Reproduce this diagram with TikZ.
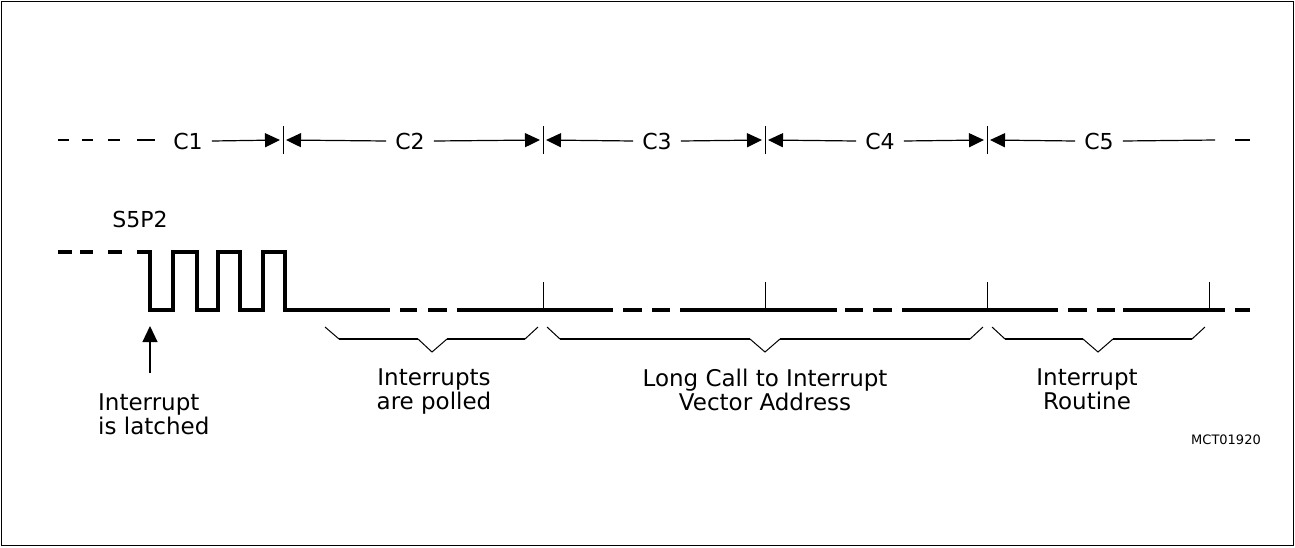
\documentclass[tikz,border=0pt]{standalone}
\usepackage{fontspec}
\setmainfont{DejaVu Sans}
\usetikzlibrary{arrows.meta}
\begin{document}
\begin{tikzpicture}[x=1pt,y=-1pt,
  wave/.style={line width=3.6pt},
  dim/.style={line width=1.2pt},
  tip/.style={-{Triangle[length=15pt,width=14pt]}},
  tick/.style={line width=1pt},
  brh/.style={line width=2.6pt},
  brd/.style={line width=1pt},
  lab/.style={font=\fontsize{22}{24}\selectfont, inner sep=0pt},
  txt/.style={font=\fontsize{23}{24}\selectfont, inner sep=0pt},
  cyc/.style={font=\fontsize{22}{24}\selectfont, inner xsep=9pt, inner ysep=0pt},
]
\useasboundingbox (0,0) rectangle (1295,547);
\draw[line width=1.5pt] (1.5,1.5) rectangle (1293.5,545.5);

% ---- cycle labels and ticks (top row)
\node[cyc] (C1) at (188,141) {C1};
\node[cyc] (C2) at (410,141) {C2};
\node[cyc] (C3) at (657,141) {C3};
\node[cyc] (C4) at (880,141) {C4};
\node[cyc] (C5) at (1099,141) {C5};
\coordinate (t1) at (283,140);
\coordinate (t2) at (543,140);
\coordinate (t3) at (765,140);
\coordinate (t4) at (987,140);
\foreach \t in {t1,t2,t3,t4} \draw[tick] ([yshift=-14pt]\t) -- ([yshift=14pt]\t);

\foreach \a/\b in {58/69,82/93,108/120,137/155} \draw[dim] (\a,140) -- (\b,140);
\draw[dim,tip] (C1.east) -- ([xshift=-3pt]t1);
\draw[dim,tip] (C2.west) -- ([xshift=3pt]t1);
\draw[dim,tip] (C2.east) -- ([xshift=-3pt]t2);
\draw[dim,tip] (C3.west) -- ([xshift=3pt]t2);
\draw[dim,tip] (C3.east) -- ([xshift=-3pt]t3);
\draw[dim,tip] (C4.west) -- ([xshift=3pt]t3);
\draw[dim,tip] (C4.east) -- ([xshift=-3pt]t4);
\draw[dim,tip] (C5.west) -- ([xshift=3pt]t4);
\coordinate (r1) at (1215,140);
\draw[dim] (C5.east) -- (r1);
\draw[dim] (1235,140) -- (1250,140);

% ---- waveform
\node[lab] (s5p2) at (140,219.5) {S5P2};
\foreach \a/\b in {58/72,80/93,108/122} \draw[wave] (\a,252) -- (\b,252);
\draw[wave] (137,252) -- (150,252) -- (150,310) -- (173,310) -- (173,252) -- (197,252)
  -- (197,310) -- (218,310) -- (218,252) -- (240,252) -- (240,310) -- (263,310)
  -- (263,252) -- (285,252) -- (285,310) -- (390,310);
\foreach \a/\b in {400/417,428/447,457/613,623/642,652/670,680/837,845/863,873/892,902/1058,1068/1087,1097/1115,1123/1225,1235/1250}
  \draw[wave] (\a,310) -- (\b,310);
\foreach \x in {543,765,987,1209} \draw[tick] (\x,282) -- (\x,310);

% ---- latch arrow
\coordinate (la0) at (150,373);
\coordinate (la1) at (150,326);
\draw[dim,-{Triangle[length=16pt,width=15pt]}] (la0) -- (la1);
\node[txt, anchor=north west, align=left] (latch) at (98,394) {Interrupt\\is latched};

% ---- braces
\draw[brd] (325,327) -- (339,339);
\draw[brh] (339,339) -- (418,339);
\draw[brd] (418,339) -- (432,352) -- (447,339);
\draw[brh] (447,339) -- (525,339);
\draw[brd] (525,339) -- (538,327);

\draw[brd] (547,327) -- (560,339);
\draw[brh] (560,339) -- (750,339);
\draw[brd] (750,339) -- (765,352) -- (780,339);
\draw[brh] (780,339) -- (970,339);
\draw[brd] (970,339) -- (983,327);

\draw[brd] (992,327) -- (1005,339);
\draw[brh] (1005,339) -- (1083,339);
\draw[brd] (1083,339) -- (1098,352) -- (1113,339);
\draw[brh] (1113,339) -- (1192,339);
\draw[brd] (1192,339) -- (1205,327);

\node[txt, anchor=north, align=center] (poll) at (434,369) {Interrupts\\are polled};
\node[txt, anchor=north, align=center] (call) at (765,369) {Long Call to Interrupt\\Vector Address};
\node[txt, anchor=north, align=center] (rout) at (1087,369) {Interrupt\\Routine};

\node[font=\fontsize{13}{15}\selectfont, inner sep=0pt] (mct) at (1226,440) {MCT01920};
\end{tikzpicture}
\end{document}
